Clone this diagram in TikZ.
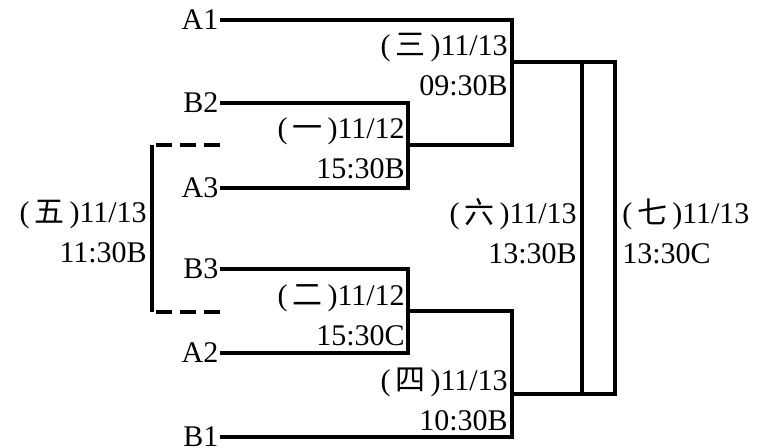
\documentclass[tikz,border=0pt]{standalone}
\usepackage{fontspec}
\setmainfont{Liberation Serif}
\newfontfamily\cjk{Noto Sans CJK SC}
\usepackage{tikz}
\usetikzlibrary{positioning}
\newcommand{\gamenum}[1]{(\,{\cjk #1}\,)}
\tikzstyle{bracket} = [line width=2.5pt, color=black]
\tikzstyle{team} = [anchor=east, inner sep=1pt, font=\fontsize{22.5}{30}\selectfont]
\tikzstyle{slot} = [anchor=east, align=right, inner sep=0pt, font=\fontsize{22.5}{30}\selectfont]
\tikzstyle{slotr} = [anchor=west, align=left, inner sep=0pt, font=\fontsize{22.5}{30}\selectfont]

\begin{document}
\begin{tikzpicture}[x=0.75pt, y=-0.75pt]
    \useasboundingbox (0,0) rectangle (761,448);
    % teams
    \node[team] (A1) at (220,20) {A1};
    \node[team] (B2) at (220,103) {B2};
    \node[team] (A3) at (220,188) {A3};
    \node[team] (B3) at (220,269) {B3};
    \node[team] (A2) at (220,353) {A2};
    \node[team] (B1) at (220,437) {B1};

    % junctions
    \coordinate (g1) at (408,145);
    \coordinate (g2) at (408,311);
    \coordinate (g3) at (512,62);
    \coordinate (g4) at (512,394);
    \coordinate (g5a) at (152,145);
    \coordinate (g5b) at (152,312);
    \coordinate (d1) at (220,145);
    \coordinate (d2) at (220,312);
    \coordinate (g6a) at (582,62);
    \coordinate (g6b) at (582,394);
    \coordinate (g7a) at (615,62);
    \coordinate (g7b) at (615,394);

    \draw[bracket] (B2.east) -| (g1);
    \draw[bracket] (A3.east) -| (g1);
    \draw[bracket] (B3.east) -| (g2);
    \draw[bracket] (A2.east) -| (g2);
    \draw[bracket] (A1.east) -| (g3);
    \draw[bracket] (g1) -| (g3);
    \draw[bracket] (B1.east) -| (g4);
    \draw[bracket] (g2) -| (g4);
    \draw[bracket] (g3) -- (g7a) -- (g7b) -- (g4);
    \draw[bracket] (g6a) -- (g6b);
    \draw[bracket, dash pattern=on 12 off 6] (d1) -- (g5a);
    \draw[bracket] (g5a) -- (g5b);
    \draw[bracket, dash pattern=on 12 off 6] (d2) -- (g5b);

    % game labels
    \node[slot] (s1) at (405,148) {\gamenum{一}11/12\\15:30B};
    \node[slot] (s2) at (405,315) {\gamenum{二}11/12\\15:30C};
    \node[slot] (s3) at (508,65) {\gamenum{三}11/13\\09:30B};
    \node[slot] (s4) at (508,399) {\gamenum{四}11/13\\10:30B};
    \node[slot] (s5) at (147,232) {\gamenum{五}11/13\\11:30B};
    \node[slot] (s6) at (577,231) {\gamenum{六}11/13\\13:30B};
    \node[slotr] (s7) at (622,231) {\gamenum{七}11/13\\13:30C};
\end{tikzpicture}
\end{document}
